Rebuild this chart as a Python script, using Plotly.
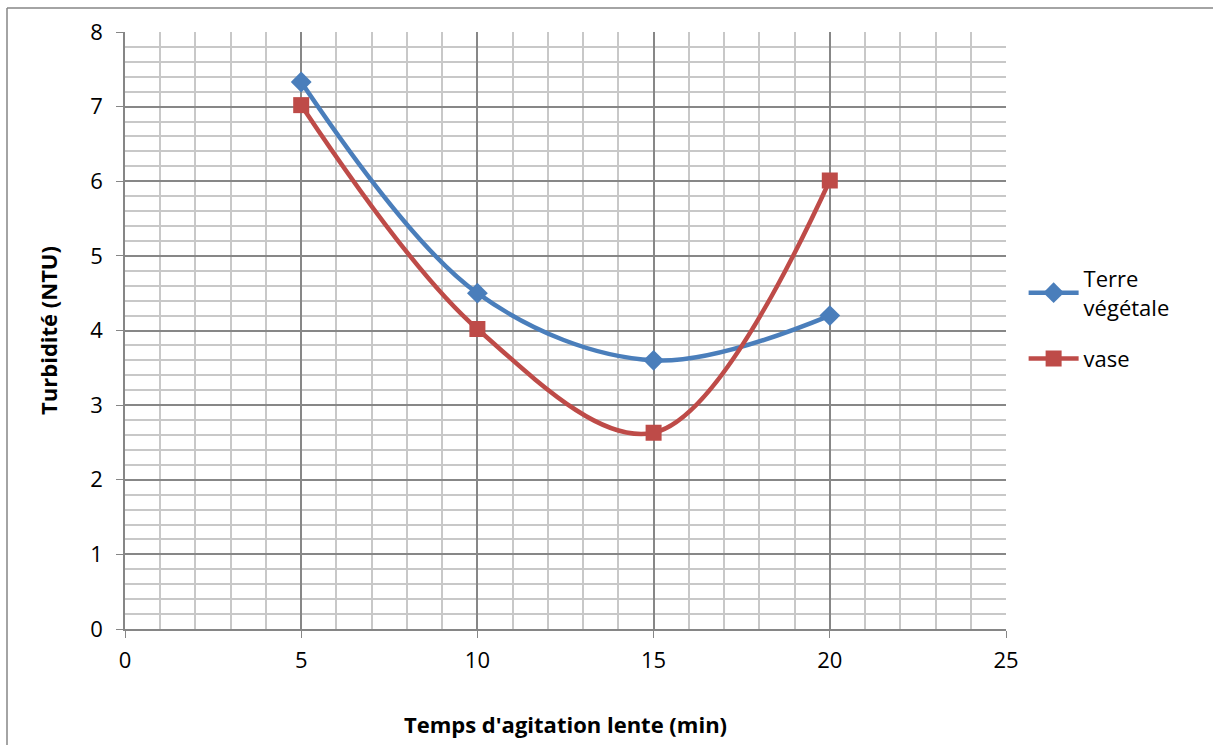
import plotly.graph_objects as go

temps = [5, 10, 15, 20]
terre_vegetale = [7.33, 4.5, 3.6, 4.2]
vase = [7.02, 4.02, 2.63, 6.01]

W, H = 1213, 745
L, R, T, B = 125, 207, 32, 116
pw, ph = W - L - R, H - T - B

font_family = "'Open Sans', Lato, sans-serif"

fig = go.Figure()
fig.add_trace(go.Scatter(
    x=temps, y=terre_vegetale, name="Terre<br>végétale",
    mode="lines+markers", legendgroup="a",
    line=dict(color="#4A7EBB", width=4.5, shape="spline", smoothing=1),
    marker=dict(symbol="diamond", size=16, color="#4A7EBB"),
))
fig.add_trace(go.Scatter(
    x=temps, y=vase, name="vase",
    mode="lines+markers", legendgroup="b",
    line=dict(color="#BE4B48", width=4.5, shape="spline", smoothing=1),
    marker=dict(symbol="square", size=16, color="#BE4B48"),
))

axis_common = dict(
    showline=True, linecolor="#868686", linewidth=1.5,
    ticks="outside", ticklen=7, tickcolor="#868686",
    gridcolor="#878787", gridwidth=1.5,
    zeroline=False,
    tickfont=dict(family=font_family, size=22, color="black"),
)

fig.update_xaxes(
    range=[0, 25], dtick=5, tick0=0, ticklabelstandoff=4,
    minor=dict(dtick=1, showgrid=True, gridcolor="#C8C8C8", gridwidth=1.5),
    title=dict(text="<b>Temps d'agitation lente (min)</b>",
               font=dict(family=font_family, size=22, color="black"), standoff=44),
    **axis_common,
)
fig.update_yaxes(
    range=[0, 8], dtick=1, tick0=0, ticklabelstandoff=9,
    minor=dict(dtick=0.2, showgrid=True, gridcolor="#C8C8C8", gridwidth=1.5),
    title=dict(text="<b>Turbidité (NTU)</b>",
               font=dict(family=font_family, size=22, color="black"), standoff=27),
    **axis_common,
)

fig.update_layout(
    width=W, height=H,
    margin=dict(l=L, r=R, t=T, b=B, autoexpand=False),
    paper_bgcolor="white", plot_bgcolor="white",
    showlegend=True,
    legend=dict(x=1.02, y=0.52, xanchor="left", yanchor="middle",
                traceorder="grouped",
                font=dict(family=font_family, size=22, color="black"),
                tracegroupgap=20, itemwidth=50, bgcolor="rgba(0,0,0,0)"),
    shapes=[
        dict(type="line", xref="paper", yref="paper",
             x0=(7 - L) / pw, x1=(W - L) / pw, y0=1 + (T - 8) / ph, y1=1 + (T - 8) / ph,
             line=dict(color="#868686", width=1.5)),
        dict(type="line", xref="paper", yref="paper",
             x0=(7 - L) / pw, x1=(7 - L) / pw, y0=1 + (T - 8) / ph, y1=-(B) / ph,
             line=dict(color="#868686", width=1.5)),
    ],
)

fig.write_html("out.html")
